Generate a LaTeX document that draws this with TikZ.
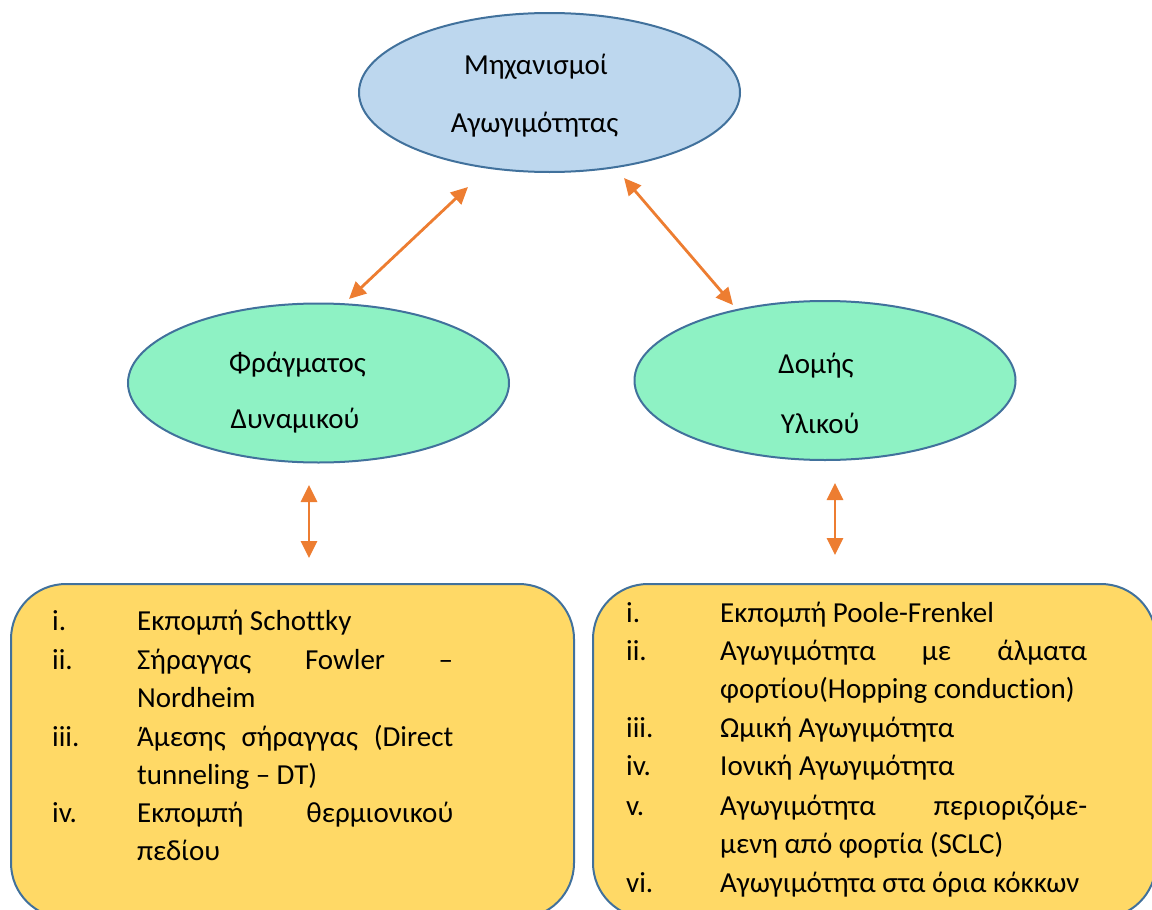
\documentclass[tikz,border=0pt]{standalone}
\usepackage{fontspec}
\setmainfont{Carlito}[Ligatures=NoCommon]
\usetikzlibrary{arrows.meta,shapes.geometric}
\definecolor{bluefill}{HTML}{BDD7EE}
\definecolor{edgeblue}{HTML}{41719C}
\definecolor{greenfill}{HTML}{8EF2C4}
\definecolor{goldfill}{HTML}{FFD966}
\definecolor{orangeA}{HTML}{ED7D31}
\hyphenpenalty=10000
\exhyphenpenalty=10000
\begin{document}
\begin{tikzpicture}[x=1pt,y=-1pt,
 ell/.style={ellipse,draw=edgeblue,line width=2pt,minimum width=381pt,minimum height=159pt,inner sep=0pt},
 lbl/.style={anchor=base,font=\fontsize{29}{35}\selectfont,inner sep=0pt},
 box/.style={draw=edgeblue,line width=2pt,fill=goldfill,rounded corners=55pt,anchor=north west,minimum width=563pt,minimum height=334pt,inner sep=0pt},
 link/.style={draw=orangeA,line width=2.8pt,{Triangle[width=16pt,length=17pt]}-{Triangle[width=16pt,length=17pt]}},
 num/.style={anchor=base west,font=\fontsize{29}{38.5}\selectfont,inner sep=0pt},
 itm/.style={anchor=base west,font=\fontsize{29}{38.5}\selectfont,inner sep=0pt},
 itmL/.style={itm,text width=316pt,align=justify},
 itmR/.style={itm,text width=367pt,align=justify}
]
\useasboundingbox (0,0) rectangle (1152,910);
\clip (0,0) rectangle (1152,910);

% ellipses
\node[ell,fill=bluefill] (top) at (549.5,92.5) {};
\node[ell,fill=greenfill] (left) at (318.5,383) {};
\node[ell,fill=greenfill] (right) at (825,380.5) {};

\node[lbl] (topA) at (536,74) {Μηχανισμοί};
\node[lbl] (topB) at (534.5,132) {Αγωγιμότητας};
\node[lbl] (leftA) at (297.5,372) {Φράγματος};
\node[lbl] (leftB) at (295,428) {Δυναμικού};
\node[lbl] (rightA) at (816,373) {Δομής};
\node[lbl] (rightB) at (820,433) {Υλικού};

% boxes
\node[box] (lbox) at (10,583) {};
\node[box] (rbox) at (592,583) {};

% connectors
\coordinate (a1s) at (468,187);
\coordinate (a1e) at (349,299);
\coordinate (a2s) at (624,178);
\coordinate (a2e) at (733,305);
\coordinate (a3s) at (309,485);
\coordinate (a3e) at (309,558);
\coordinate (a4s) at (835,483);
\coordinate (a4e) at (835,555);
\draw[link] (a1s) -- (a1e);
\draw[link] (a2s) -- (a2e);
\draw[link] (a3s) -- (a3e);
\draw[link] (a4s) -- (a4e);

% left list
\node[num] (l1n) at (52,630) {i.};
\node[itm] (l1) at (137,630) {Εκπομπή Schottky};
\node[num] (l2n) at (52,669) {ii.};
\node[itmL] (l2) at (137,669) {Σήραγγας Fowler –\linebreak Nordheim};
\node[num] (l3n) at (52,746) {iii.};
\node[itmL] (l3) at (137,746) {Άμεσης σήραγγας (Direct\linebreak tunneling – DT)};
\node[num] (l4n) at (52,822) {iv.};
\node[itmL] (l4) at (137,822) {Εκπομπή θερμιονικού\linebreak πεδίου};

% right list
\node[num] (r1n) at (626,622) {i.};
\node[itm] (r1) at (720,622) {Εκπομπή Poole-Frenkel};
\node[num] (r2n) at (626,660) {ii.};
\node[itmR] (r2) at (720,660) {Αγωγιμότητα με άλματα\linebreak φορτίου(Hopping conduction)};
\node[num] (r3n) at (626,737) {iii.};
\node[itm] (r3) at (720,737) {Ωμική Αγωγιμότητα};
\node[num] (r4n) at (626,775) {iv.};
\node[itm] (r4) at (720,775) {Ιονική Αγωγιμότητα};
\node[num] (r5n) at (626,815) {v.};
\node[itmR] (r5) at (720,815) {Αγωγιμότητα περιοριζόμε-\linebreak μενη από φορτία (SCLC)};
\node[num] (r6n) at (626,892) {vi.};
\node[itm] (r6) at (720,892) {Αγωγιμότητα στα όρια κόκκων};
\end{tikzpicture}
\end{document}
